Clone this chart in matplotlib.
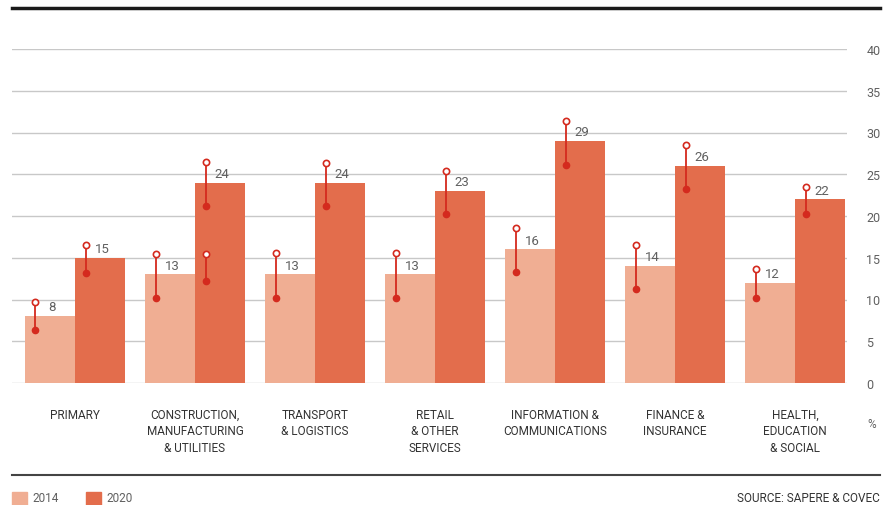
import matplotlib
matplotlib.use("Agg")
import matplotlib.pyplot as plt
from matplotlib.patches import Rectangle
from matplotlib.lines import Line2D
import numpy as np

plt.rcParams["font.family"] = ["Liberation Sans Narrow", "Roboto", "DejaVu Sans"]

# Share of workers, by sector
categories = ["PRIMARY",
              "CONSTRUCTION,\nMANUFACTURING\n& UTILITIES",
              "TRANSPORT\n& LOGISTICS",
              "RETAIL\n& OTHER\nSERVICES",
              "INFORMATION &\nCOMMUNICATIONS",
              "FINANCE &\nINSURANCE",
              "HEALTH,\nEDUCATION\n& SOCIAL"]
share_2014 = [8, 13, 13, 13, 16, 14, 12]
share_2020 = [15, 24, 24, 23, 29, 26, 22]

# Range markers (low dot, high open circle)
low_2014 = [6.3, 10.2, 10.2, 10.2, 13.3, 11.2, 10.2]
high_2014 = [9.7, 15.5, 15.6, 15.6, 18.6, 16.5, 13.6]
low_2020 = [13.2, 21.2, 21.2, 20.2, 26.1, 23.2, 20.2]
high_2020 = [16.5, 26.5, 26.4, 25.4, 31.4, 28.5, 23.5]
# second marker drawn on the construction 2020 bar
extra_group = [1]
extra_low = [12.2]
extra_high = [15.5]

yticks = [0, 5, 10, 15, 20, 25, 30, 35, 40]

c2014 = "#F0AE93"
c2020 = "#E36D4C"
cmark = "#D42A1E"
grey_text = "#606060"

W, H = 889, 506
fig = plt.figure(figsize=(W / 100, H / 100), dpi=100)


def fx(x):
    return x / W


def fy(y):
    return 1 - y / H


ax = fig.add_axes([fx(12), fy(384), fx(847) - fx(12), fy(50) - fy(384)])

x = np.arange(len(categories))
bw = 50 / 120
ax.bar(x - bw / 2, share_2014, width=bw, color=c2014, zorder=2)
ax.bar(x + bw / 2, share_2020, width=bw, color=c2020, zorder=2)

mark_off = 10.5 / 120


def range_marker(xpos, lo, hi):
    ax.plot([xpos, xpos], [lo, hi], color=cmark, lw=1.3, zorder=3)
    ax.plot(xpos, lo, "o", color=cmark, ms=4.5, zorder=4)
    ax.plot(xpos, hi, "o", mfc="white", mec=cmark, mew=1.2, ms=4.5, zorder=4)


for i in x:
    range_marker(i - bw + mark_off, low_2014[i], high_2014[i])
    range_marker(i + mark_off, low_2020[i], high_2020[i])
for g, lo, hi in zip(extra_group, extra_low, extra_high):
    range_marker(g + mark_off, lo, hi)

for i in x:
    ax.annotate(str(share_2014[i]), (i - bw / 2 + 2 / 120, share_2014[i]),
                xytext=(0, 2), textcoords="offset points", ha="center",
                va="bottom", fontsize=9.5, color=grey_text, zorder=5)
    ax.annotate(str(share_2020[i]), (i + bw / 2 + 2 / 120, share_2020[i]),
                xytext=(0, 2), textcoords="offset points", ha="center",
                va="bottom", fontsize=9.5, color=grey_text, zorder=5)

ax.set_xlim((12 - 75) / 120, (847 - 75) / 120)
ax.set_ylim(0, 40)
ax.set_yticks(yticks)
ax.yaxis.tick_right()
ax.tick_params(axis="y", length=0, pad=14, labelsize=9, labelcolor=grey_text)
ax.set_xticks(x)
ax.set_xticklabels(categories, fontsize=8.5, color="#333333", linespacing=1.35)
ax.tick_params(axis="x", length=0, pad=18)
ax.grid(axis="y", color="#C8C8C8", lw=1, zorder=0)
ax.set_axisbelow(True)
for s in ax.spines.values():
    s.set_visible(False)

fig.text(fx(872), fy(425), "%", fontsize=8.5, color=grey_text, ha="center", va="center")

# Rules above and below the chart
fig.add_artist(Line2D([fx(12), fx(880)], [fy(9), fy(9)], color="#1a1a1a", lw=2.5))
fig.add_artist(Line2D([fx(12), fx(880)], [fy(476), fy(476)], color="#444444", lw=1.5))

# Legend and source
for x0, col, lab in [(12, c2014, "2014"), (86, c2020, "2020")]:
    fig.add_artist(Rectangle((fx(x0), fy(506)), fx(15), 13 / H, color=col,
                             transform=fig.transFigure))
    fig.text(fx(x0 + 20), fy(499), lab, fontsize=8.5, color=grey_text, va="center")
fig.text(fx(880), fy(499), "SOURCE: SAPERE & COVEC", fontsize=8.5,
         color="#333333", va="center", ha="right")

fig.savefig("out.png", dpi=100)
